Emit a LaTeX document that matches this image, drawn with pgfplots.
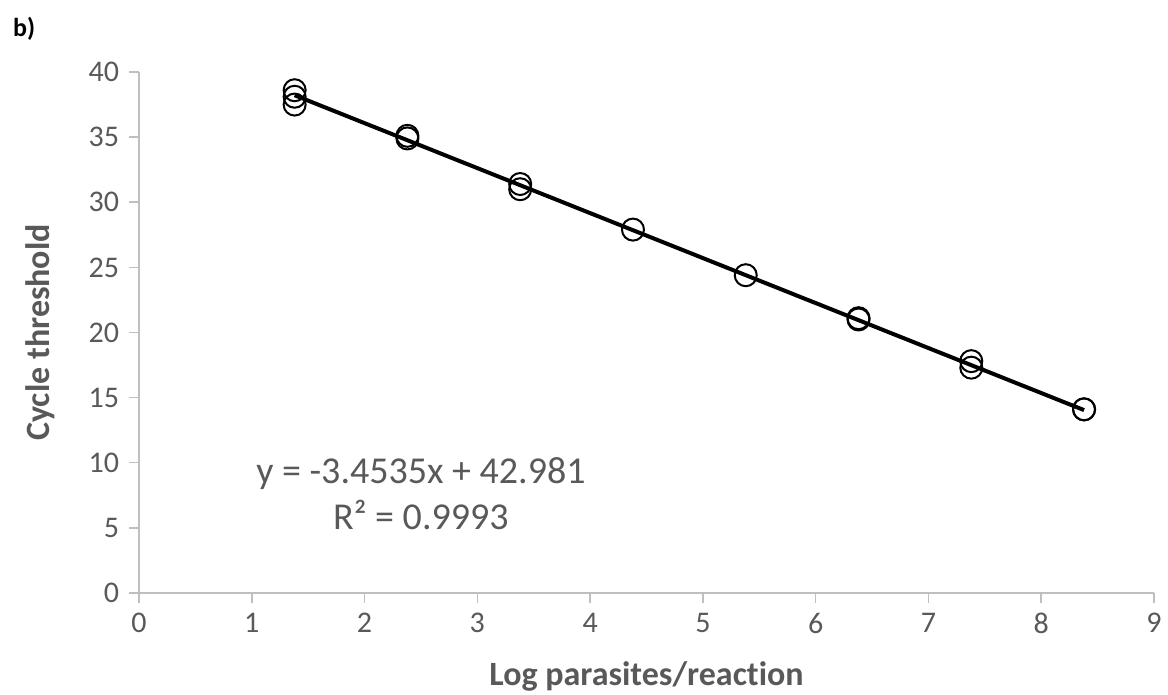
\documentclass[border=0pt]{standalone}
\usepackage{fontspec}
\setmainfont[Ligatures=NoCommon]{Carlito}
\usepackage{pgfplots}
\pgfplotsset{compat=1.18}
\definecolor{txtgray}{HTML}{595959}
\definecolor{axgray}{HTML}{BFBFBF}
\begin{document}
\begin{tikzpicture}
\path[use as bounding box] (-69.5bp,-51bp) rectangle (514.5bp,296.5bp);
\begin{axis}[
  at={(0,0)}, anchor=south west,
  scale only axis,
  width=507.5bp, height=260.5bp,
  xmin=0, xmax=9, ymin=0, ymax=40,
  xtick={0,1,...,9}, ytick={0,5,...,40},
  axis x line*=bottom, axis y line*=left,
  axis line style={axgray, line width=0.75bp, -},
  tick style={axgray, line width=0.75bp},
  tick align=outside,
  major tick length=5bp,
  /pgf/number format/assume math mode=true,
  ticklabel style={font=\fontsize{15bp}{17bp}\selectfont, text=txtgray},
  yticklabel style={xshift=-1.5bp},
  xticklabel style={yshift=-1.5bp},
  xlabel={\textbf{Log parasites/reaction}},
  ylabel={\textbf{Cycle threshold}},
  xlabel style={yshift=-7bp},
  ylabel style={yshift=10bp},
  label style={font=\fontsize{17bp}{20bp}\selectfont, text=txtgray},
  clip=false,
]
\addplot[black, line width=2bp, no marks] coordinates {(1.38,38.215) (8.38,14.041)};
\addplot[only marks, mark=o, mark size=5.5bp, mark options={black, line width=1bp}] coordinates {
(1.38,38.6) (1.38,38.1) (1.38,37.5)
(2.38,35.1) (2.38,34.9)
(3.38,31.4) (3.38,31.0)
(4.38,27.9)
(5.38,24.4)
(6.38,21.1) (6.38,21.0)
(7.38,17.8) (7.38,17.3)
(8.38,14.1) (8.38,14.1)
};
\node[align=center, text=txtgray, font=\fontsize{19bp}{23bp}\selectfont] at (axis cs:2.5,7.6) {y = -3.4535x + 42.981\\R² = 0.9993};
\end{axis}
\node[anchor=north west, font=\bfseries\fontsize{13bp}{15bp}\selectfont] at (-69.5bp+3bp,296.5bp-5bp) {b)};
\end{tikzpicture}
\end{document}
